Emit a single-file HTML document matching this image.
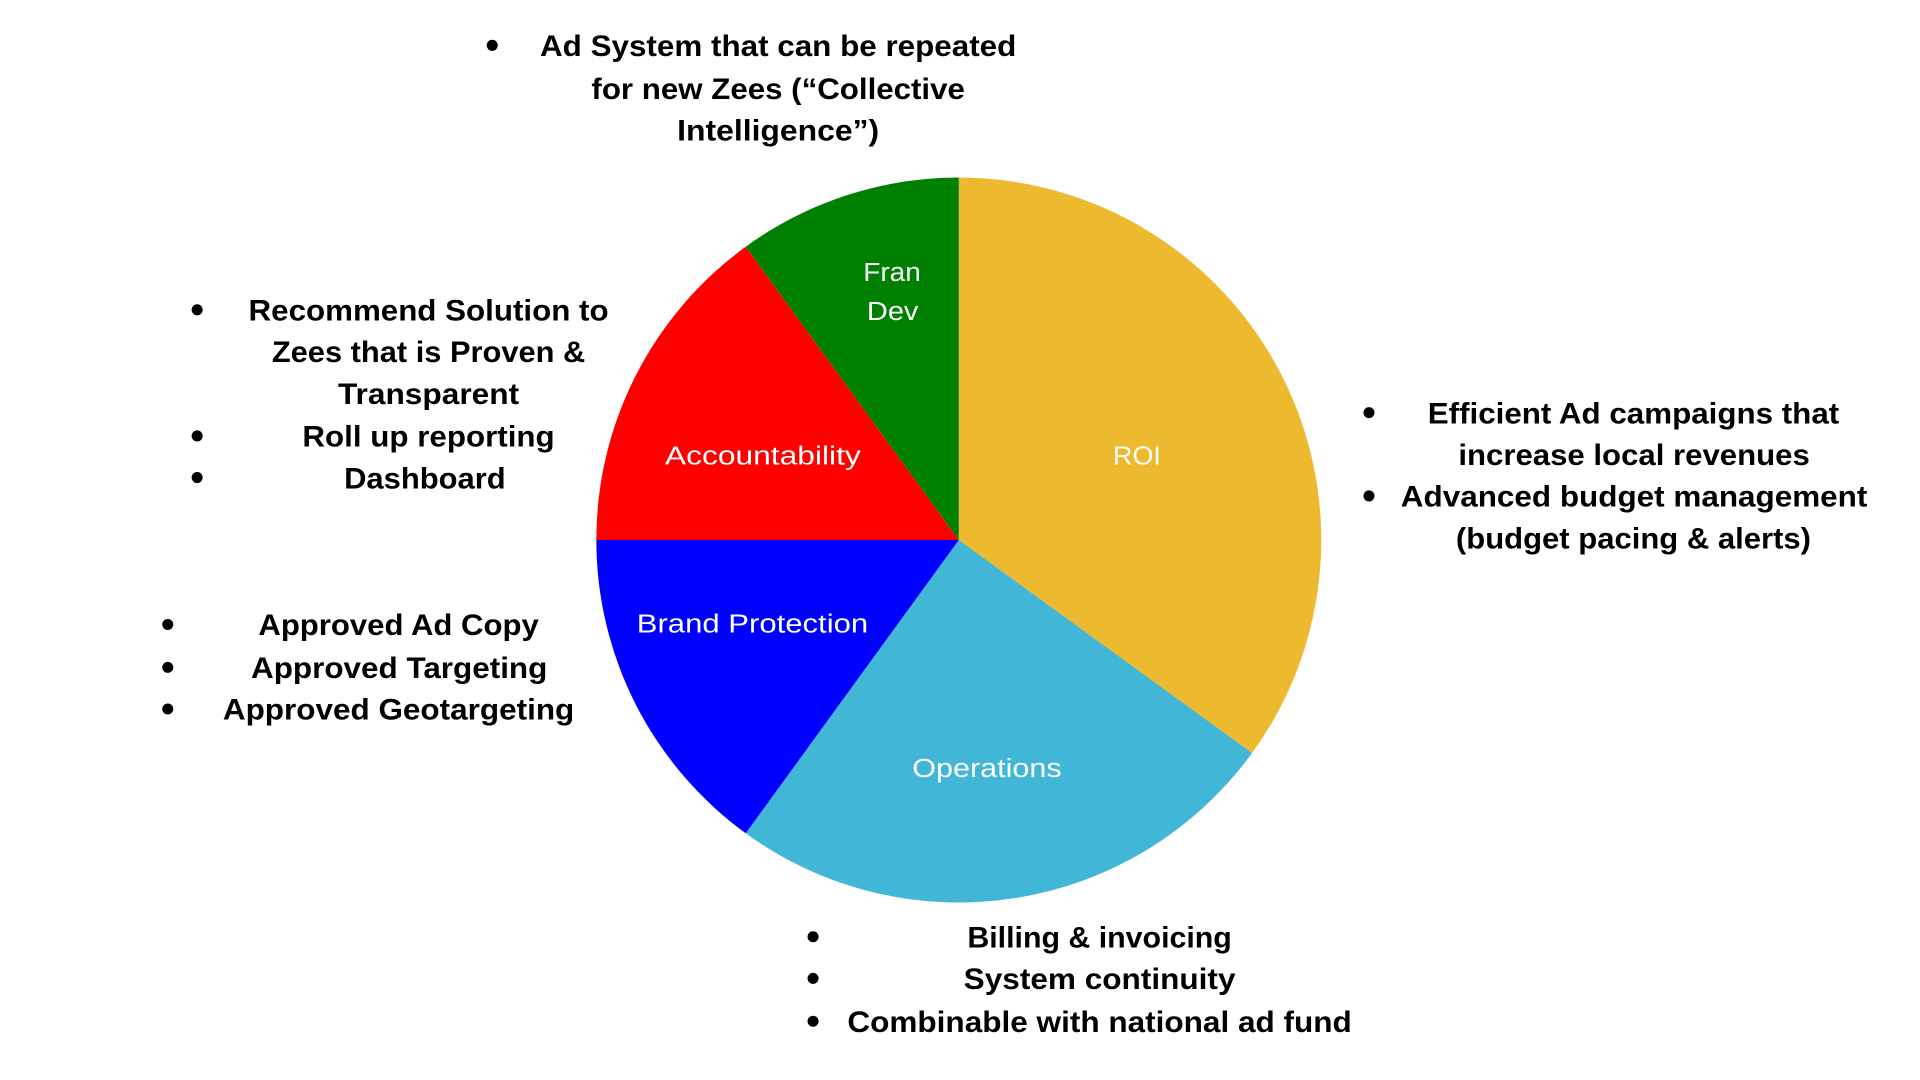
<!DOCTYPE html>
<html><head><meta charset="utf-8"><style>html,body{margin:0;padding:0;background:#fff;}svg{display:block;}</style></head>
<body>
<svg width="1920" height="1080" viewBox="0 0 1568 882" xmlns="http://www.w3.org/2000/svg">
<rect width="1568" height="882" fill="#fff"/>
<path d="M783,441 L783,145 A296,296 0 0 1 1022.5,615 Z" fill="#EDB92E"/>
<path d="M783,441 L1022.5,615 A296,296 0 0 1 609,680.5 Z" fill="#41B6D6"/>
<path d="M783,441 L609,680.5 A296,296 0 0 1 487,441 Z" fill="#0000FF"/>
<path d="M783,441 L487,441 A296,296 0 0 1 609,201.5 Z" fill="#FF0000"/>
<path d="M783,441 L609,201.5 A296,296 0 0 1 783,145 Z" fill="#008000"/>
<g font-family="Liberation Sans, sans-serif" font-size="21" fill="#fff" text-anchor="middle" dominant-baseline="central">
<text x="728.5" y="223" textLength="47" lengthAdjust="spacingAndGlyphs">Fran</text>
<text x="729" y="255" textLength="42" lengthAdjust="spacingAndGlyphs">Dev</text>
<text x="928.5" y="373" textLength="39" lengthAdjust="spacingAndGlyphs">ROI</text>
<text x="623" y="373" textLength="160" lengthAdjust="spacingAndGlyphs">Accountability</text>
<text x="614.5" y="510" textLength="189" lengthAdjust="spacingAndGlyphs">Brand Protection</text>
<text x="806" y="628" textLength="122" lengthAdjust="spacingAndGlyphs">Operations</text>
</g>
<g fill="#000">
<circle cx="402" cy="37" r="4.5"/>
<circle cx="161" cy="253" r="4.5"/><circle cx="161" cy="356" r="4.5"/><circle cx="161" cy="390" r="4.5"/>
<circle cx="137" cy="510" r="4.5"/><circle cx="137" cy="545" r="4.5"/><circle cx="137" cy="579" r="4.5"/>
<circle cx="1118" cy="337" r="4.5"/><circle cx="1118" cy="405" r="4.5"/>
<circle cx="664" cy="765" r="4.5"/><circle cx="664" cy="799" r="4.5"/><circle cx="664" cy="834" r="4.5"/>
</g>
<g font-family="Liberation Sans, sans-serif" font-weight="bold" font-size="24" fill="#000" text-anchor="middle" dominant-baseline="central">
<text x="635.5" y="38" textLength="389" lengthAdjust="spacingAndGlyphs">Ad System that can be repeated</text>
<text x="635.5" y="73" textLength="305" lengthAdjust="spacingAndGlyphs">for new Zees (“Collective</text>
<text x="635.5" y="107" textLength="165" lengthAdjust="spacingAndGlyphs">Intelligence”)</text>
<text x="350" y="254" textLength="294" lengthAdjust="spacingAndGlyphs">Recommend Solution to</text>
<text x="350" y="288" textLength="256" lengthAdjust="spacingAndGlyphs">Zees that is Proven &amp;</text>
<text x="350" y="322" textLength="148" lengthAdjust="spacingAndGlyphs">Transparent</text>
<text x="350" y="357" textLength="206" lengthAdjust="spacingAndGlyphs">Roll up reporting</text>
<text x="347" y="391" textLength="132" lengthAdjust="spacingAndGlyphs">Dashboard</text>
<text x="325.5" y="511" textLength="229" lengthAdjust="spacingAndGlyphs">Approved Ad Copy</text>
<text x="326" y="546" textLength="242" lengthAdjust="spacingAndGlyphs">Approved Targeting</text>
<text x="325.5" y="580" textLength="287" lengthAdjust="spacingAndGlyphs">Approved Geotargeting</text>
<text x="1334" y="338" textLength="336" lengthAdjust="spacingAndGlyphs">Efficient Ad campaigns that</text>
<text x="1334.5" y="372" textLength="287" lengthAdjust="spacingAndGlyphs">increase local revenues</text>
<text x="1334.5" y="406" textLength="381" lengthAdjust="spacingAndGlyphs">Advanced budget management</text>
<text x="1334" y="440" textLength="290" lengthAdjust="spacingAndGlyphs">(budget pacing &amp; alerts)</text>
<text x="898" y="766" textLength="216" lengthAdjust="spacingAndGlyphs">Billing &amp; invoicing</text>
<text x="898" y="800" textLength="222" lengthAdjust="spacingAndGlyphs">System continuity</text>
<text x="898" y="835" textLength="412" lengthAdjust="spacingAndGlyphs">Combinable with national ad fund</text>
</g>
</svg>
</body></html>
